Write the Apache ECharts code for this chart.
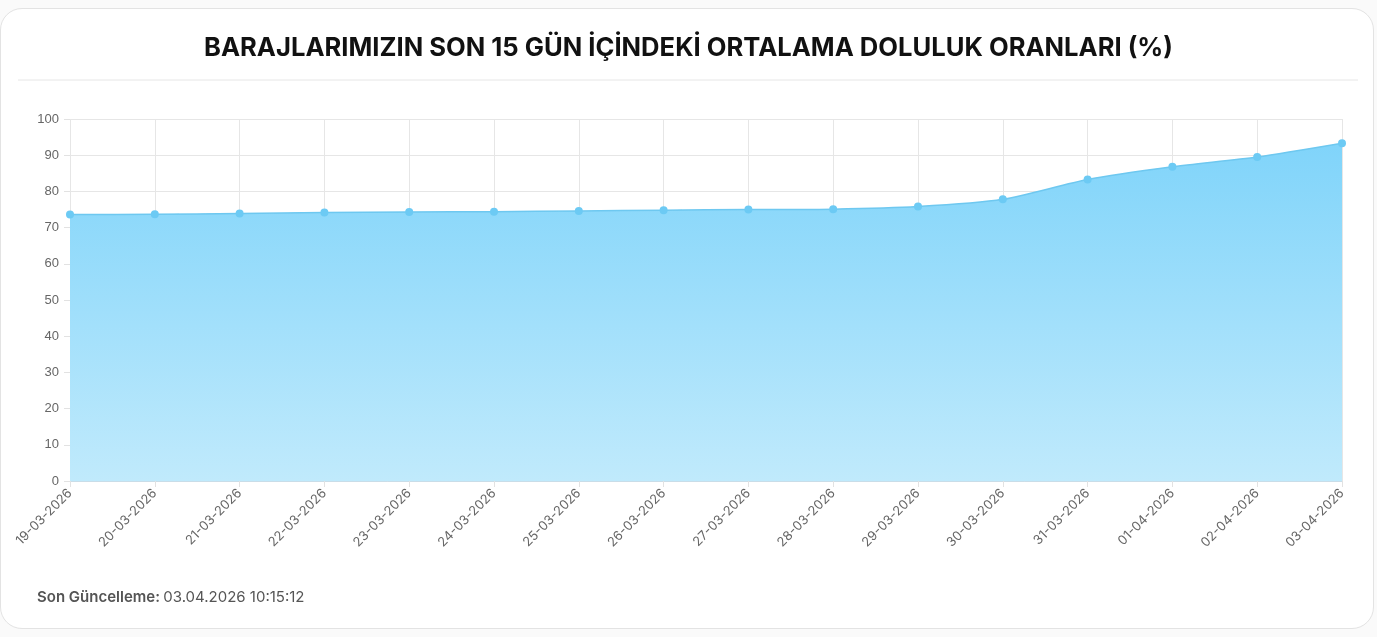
<!DOCTYPE html>
<html>
<head>
<meta charset="utf-8">
<script src="https://cdn.jsdelivr.net/npm/echarts@6/dist/echarts.min.js"></script>
<style>
    html, body { margin: 0; padding: 0; background: #fafafa; }
    .card {
        position: absolute;
        left: 0; top: 8px;
        width: 1374px; height: 621px;
        box-sizing: border-box;
        border: 1px solid #e3e3e3;
        border-radius: 22px;
        background: #fff;
    }
    #chart { position: absolute; left: 0; top: 0; width: 1377px; height: 637px; }
</style>
</head>
<body>
<div class="card"></div>
<div id="chart"></div>
<script>
// tarih etiketleri
const dates = ['19-03-2026', '20-03-2026', '21-03-2026', '22-03-2026', '23-03-2026', '24-03-2026', '25-03-2026', '26-03-2026',
    '27-03-2026', '28-03-2026', '29-03-2026', '30-03-2026', '31-03-2026', '01-04-2026', '02-04-2026', '03-04-2026'];
// ortalama doluluk (%)
const fillRates = [73.6, 73.7, 73.9, 74.2, 74.3, 74.4, 74.6, 74.8, 75.0, 75.1, 75.8, 77.8, 83.3, 86.8, 89.5, 93.3];
const yTicks = [0, 10, 20, 30, 40, 50, 60, 70, 80, 90, 100];

const titleText = 'BARAJLARIMIZIN SON 15 GÜN İÇİNDEKİ ORTALAMA DOLULUK ORANLARI (%)';
const updatedLabel = 'Son Güncelleme:';
const updatedTime = '03.04.2026 10:15:12';

function initChart() {
    const chart = echarts.init(document.getElementById('chart'));
    const option = {
        animation: false,
        title: {
            text: titleText,
            left: 'center',
            top: 30,
            textStyle: {
                fontFamily: 'Inter',
                fontSize: 25.6,
                fontWeight: 700,
                color: '#111'
            }
        },
        graphic: [{
            type: 'line',
            shape: { x1: 18, y1: 80, x2: 1358, y2: 80 },
            style: { stroke: '#e6e6e6', lineWidth: 1 }
        }, {
            type: 'text',
            left: 37,
            top: 590,
            style: {
                text: '{b|' + updatedLabel + '} {n|' + updatedTime + '}',
                rich: {
                    b: { fontFamily: 'Inter', fontSize: 15, fontWeight: 600, fill: '#555' },
                    n: { fontFamily: 'Inter', fontSize: 15, fill: '#555' }
                }
            }
        }],
        grid: {
            left: 70,
            right: 35,
            top: 119,
            bottom: 156
        },
        xAxis: {
            type: 'category',
            data: dates,
            boundaryGap: false,
            axisLine: { lineStyle: { color: '#c9dde8' } },
            axisTick: { show: true, length: 6, lineStyle: { color: '#e2e2e2' } },
            axisLabel: {
                rotate: 45,
                color: '#666',
                fontFamily: 'Inter',
                fontSize: 13,
                margin: 10
            },
            splitLine: { show: true, lineStyle: { color: '#e6e6e6' } }
        },
        yAxis: {
            type: 'value',
            min: yTicks[0],
            max: yTicks[yTicks.length - 1],
            interval: yTicks[1] - yTicks[0],
            axisLine: { show: false },
            axisTick: { show: true, length: 6, lineStyle: { color: '#e2e2e2' } },
            axisLabel: {
                color: '#666',
                fontFamily: 'Liberation Sans',
                fontSize: 13,
                margin: 11
            },
            splitLine: { lineStyle: { color: '#e6e6e6' } }
        },
        series: [{
            type: 'line',
            data: fillRates,
            smooth: 0.25,
            symbol: 'circle',
            symbolSize: 8,
            lineStyle: { color: '#6ec8f0', width: 1.5 },
            itemStyle: { color: '#6ccaf4' },
            areaStyle: {
                opacity: 1,
                color: new echarts.graphic.LinearGradient(0, 0, 0, 1, [{
                    offset: 0,
                    color: 'rgb(128, 212, 250)'
                }, {
                    offset: 1,
                    color: 'rgb(192, 234, 252)'
                }])
            }
        }]
    };
    chart.setOption(option);
}

initChart();
</script>
</body>
</html>
